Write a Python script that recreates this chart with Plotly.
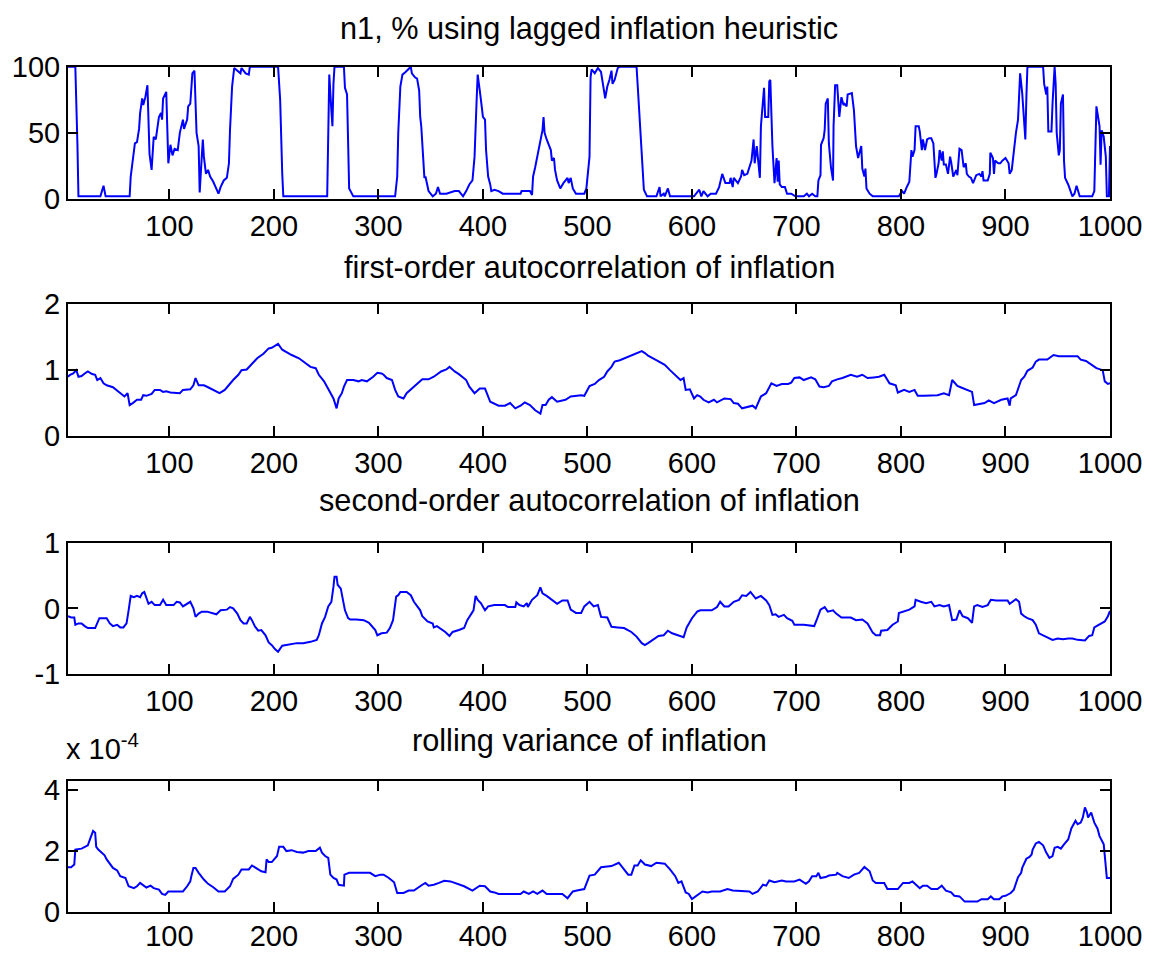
import plotly.graph_objects as go

# ---------------- data ----------------
n1_t = [3,10,12,13,34,37,39,62,63,65,67,69,71,72,74,75,77,79,81,83,85,87,90,92,93,94,97,99,101,103,105,108,110,113,114,117,118,120,122,124,126,128,129,131,132,133,135,137,139,142,145,147,149,152,155,157,158,159,160,162,165,168,169,173,176,177,204,206,208,209,251,252,253,255,256,257,258,267,268,270,272,276,316,318,319,321,323,326,329,331,332,335,337,339,340,341,343,344,345,347,348,352,355,357,359,365,373,377,381,384,387,390,392,394,395,397,398,399,400,402,403,405,407,408,411,415,419,436,437,445,447,448,450,452,455,457,458,459,461,465,466,468,469,471,474,477,481,482,484,486,489,497,499,502,503,504,507,510,513,515,517,519,521,523,524,526,529,531,547,548,550,552,554,557,566,569,570,573,574,577,579,602,607,609,611,615,618,623,626,629,631,632,636,637,639,640,644,647,648,650,653,657,659,660,662,664,665,666,668,669,670,673,674,675,677,678,679,681,682,683,684,686,689,691,695,699,707,710,712,715,718,720,721,723,723.5,726,727,728,730,731,733,735,735.5,737,739,741,743,745,746,748,749,753,755,757,759,762,763,765,766,767,770,773,798,801,803,805,808,810,811,813,814,817,818,820,821,823,825,827,829,831,833,834,836,837,839,840,841,843,845,847,848,850,853,854,856,858,860,862,863,865,867,869,872,875,877,878,879,883,885,885.5,888,889,890,893,895,897,900,903,904,906,908,910,912,913,914,916,917,919,920,921,936,937,939,940,941,944,945,947,948,949,951,952,953,955,956,957,960,962,964,966,968,971,983,985,987,988,990,991,992,994,996,997,999,1000]
n1_v = [100,100,42,2,2,10,2,2,17,32,42,43,53,65,76,71,77,86,34,22,47,45,62,65,60,76,81,27,41,33,38,37,50,60,53,60,70,72,95,97,50,40,5,32,45,32,19,22,17,13,8,4,9,14,16,27,52,70,85,99,97,95,99,95,94,100,100,75,19,2,2,47,94,67,55,87,100,100,84,79,8,2,2,17,50,85,94,96,98,100,95,92,91,82,62,55,29,16,17,11,6,2,4,9,4,4,6,6,2,6,11,14,32,75,94,82,72,69,62,60,37,17,11,6,7,6,4,4,6,6,3,17,24,32,42,52,62,50,45,37,29,31,22,14,8,12,16,12,16,8,4,4,8,32,92,98,95,99,96,87,76,85,90,97,87,90,99,100,100,87,60,37,7,2,2,9,2,4,2,8,2,2,7,2,6,2,4,4,9,19,14,12,12,16,9,16,12,17,22,18,19,29,45,27,40,19,16,55,75,84,62,62,89,90,40,19,12,31,13,29,11,9,9,4,4,2,2,4,2,4,2,2,14,18,41,46,52,72,76,42,24,14,55,86,86,62,77,71,72,70,79,80,67,40,31,40,23,17,23,8,4,2,2,6,4,8,13,37,32,37,55,55,51,37,45,37,45,46,46,42,16,19,27,37,29,36,26,26,19,32,28,17,22,18,38,37,24,27,19,17,16,12,18,19,17,21,14,14,19,35,31,19,29,27,27,29,31,27,19,22,37,50,60,87,95,80,65,45,77,100,100,87,79,85,51,51,72,100,87,50,33,37,72,79,29,16,11,6,2,4,10,2,2,6,70,65,55,26,52,47,32,2,2,40]

ac1_t = [3,5,8,11,13,16,19,22,26,29,31,34,37,40,46,53,57,60,62,65,69,73,75,78,83,86,91,94,97,101,110,113,120,123,125,128,133,137,142,148,153,158,161,166,169,174,177,184,190,195,198,201,204,208,212,217,224,228,235,240,243,248,251,254,257,260,262,265,267,270,276,281,284,289,292,295,299,303,305,308,313,316,319,324,327,332,336,342,348,353,360,365,368,373,377,384,387,392,397,402,407,410,415,421,426,431,436,440,445,450,455,457,460,463,466,471,476,479,484,489,494,497,502,507,511,516,519,523,526,531,537,542,548,552,555,558,565,569,574,579,584,589,592,594,598,602,605,608,611,616,621,624,631,637,640,644,648,653,658,661,666,671,676,681,686,690,692,695,698,703,707,714,718,722,726,731,734,739,744,752,758,763,768,774,779,784,789,795,797,803,808,813,816,822,829,835,841,846,849,854,857,864,868,870,875,880,884,889,896,902,904,905,910,915,918,921,926,929,932,940,946,951,969,972,977,982,987,993,995,998,1000]
ac1_v = [0.90,0.93,0.95,1.0,0.90,0.91,0.95,0.98,0.94,0.93,0.85,0.88,0.80,0.77,0.74,0.65,0.60,0.65,0.47,0.50,0.55,0.55,0.62,0.61,0.64,0.70,0.70,0.67,0.68,0.66,0.65,0.70,0.71,0.77,0.88,0.77,0.77,0.74,0.70,0.65,0.70,0.80,0.85,0.93,1.0,1.01,1.06,1.18,1.25,1.33,1.34,1.37,1.40,1.31,1.27,1.23,1.18,1.13,1.05,1.03,0.93,0.83,0.75,0.65,0.57,0.42,0.57,0.65,0.75,0.85,0.85,0.83,0.85,0.83,0.86,0.90,0.96,0.95,0.93,0.88,0.85,0.70,0.60,0.57,0.65,0.72,0.77,0.86,0.86,0.90,0.98,1.01,1.05,0.98,0.94,0.85,0.75,0.65,0.72,0.72,0.52,0.50,0.46,0.46,0.50,0.42,0.46,0.51,0.47,0.39,0.34,0.47,0.47,0.55,0.59,0.52,0.54,0.55,0.60,0.61,0.62,0.61,0.76,0.79,0.85,0.90,0.98,1.05,1.13,1.15,1.19,1.23,1.26,1.29,1.26,1.22,1.16,1.13,1.08,1.0,0.93,0.85,0.88,0.70,0.71,0.57,0.62,0.60,0.55,0.51,0.55,0.51,0.57,0.56,0.50,0.49,0.42,0.44,0.46,0.42,0.60,0.65,0.80,0.76,0.79,0.79,0.79,0.81,0.88,0.89,0.85,0.89,0.86,0.75,0.74,0.76,0.83,0.86,0.88,0.93,0.90,0.93,0.88,0.89,0.90,0.93,0.80,0.77,0.66,0.70,0.67,0.70,0.61,0.61,0.62,0.62,0.65,0.62,0.85,0.76,0.74,0.70,0.67,0.47,0.49,0.50,0.54,0.50,0.55,0.57,0.46,0.57,0.62,0.85,0.90,0.99,1.04,1.13,1.16,1.16,1.23,1.21,1.21,1.16,1.14,1.08,1.03,1.0,0.83,0.79,0.80]

ac2_t = [3,6,9,10,13,16,19,22,29,31,33,37,40,43,46,50,53,56,59,61,63,66,69,72,74,76,78,80,83,86,91,94,97,104,107,110,113,117,120,123,125,128,131,136,141,145,149,155,158,161,165,168,171,174,177,179,182,185,188,192,195,198,201,204,208,212,217,222,228,235,241,243,246,249,252,255,257,258,260,261,264,266,268,271,273,279,286,291,294,297,299,303,308,311,314,317,319,321,327,331,334,337,340,342,347,352,353,356,361,364,368,371,377,382,385,389,391,393,395,398,402,405,411,421,424,431,432,435,439,442,443,447,452,455,457,461,466,471,476,481,484,489,494,497,502,506,510,513,519,523,529,535,542,547,552,555,558,563,568,573,577,581,587,592,595,600,605,608,613,619,624,627,631,635,640,645,648,652,656,661,666,671,674,677,680,683,688,691,696,698,707,717,720,723,727,730,735,738,743,752,757,763,768,773,776,780,781,787,792,797,798,803,808,813,814,819,824,829,832,837,841,846,849,853,856,859,864,868,870,873,878,883,886,891,902,904,907,910,913,915,918,921,926,929,932,936,940,945,950,955,960,964,969,976,980,983,985,990,995,998,1000]
ac2_v = [-0.12,-0.14,-0.14,-0.25,-0.23,-0.23,-0.27,-0.30,-0.30,-0.23,-0.15,-0.15,-0.15,-0.23,-0.27,-0.25,-0.29,-0.29,-0.23,-0.03,0.19,0.17,0.19,0.17,0.23,0.25,0.17,0.07,0.10,0.05,0.05,0.13,0.05,0.05,0.10,0.09,0.03,0.07,0.10,0.0,-0.13,-0.08,-0.05,-0.05,-0.07,-0.09,-0.03,-0.02,0.02,0.0,-0.08,-0.18,-0.23,-0.23,-0.13,-0.18,-0.28,-0.34,-0.33,-0.41,-0.52,-0.56,-0.62,-0.66,-0.57,-0.56,-0.54,-0.53,-0.53,-0.51,-0.48,-0.41,-0.23,-0.13,0.03,0.10,0.33,0.48,0.48,0.36,0.30,0.15,-0.03,-0.15,-0.17,-0.17,-0.18,-0.22,-0.28,-0.33,-0.41,-0.38,-0.37,-0.30,-0.18,0.18,0.20,0.25,0.25,0.20,0.10,0.03,-0.03,-0.12,-0.20,-0.23,-0.29,-0.27,-0.32,-0.36,-0.42,-0.36,-0.33,-0.30,-0.18,-0.08,-0.03,0.19,0.13,0.08,-0.03,0.03,0.05,0.05,0.02,0.02,0.09,0.05,0.03,0.08,0.02,0.13,0.20,0.32,0.23,0.19,0.13,0.07,0.12,0.12,-0.02,-0.07,-0.07,0.03,0.10,0.03,0.05,-0.13,-0.14,-0.28,-0.29,-0.30,-0.36,-0.43,-0.53,-0.56,-0.53,-0.48,-0.42,-0.41,-0.34,-0.38,-0.41,-0.44,-0.29,-0.15,-0.05,-0.03,-0.03,-0.03,0.02,0.10,0.03,0.03,0.10,0.13,0.20,0.19,0.25,0.15,0.19,0.12,0.05,-0.10,-0.09,-0.13,-0.10,-0.15,-0.19,-0.25,-0.25,-0.27,-0.15,-0.02,0.02,-0.05,-0.03,-0.08,-0.14,-0.14,-0.18,-0.17,-0.23,-0.37,-0.41,-0.41,-0.34,-0.33,-0.25,-0.20,-0.07,-0.05,-0.02,0.03,0.13,0.10,0.08,0.10,0.03,0.05,0.03,0.05,-0.18,-0.17,-0.03,-0.12,-0.15,-0.22,0.03,0.05,0.02,0.05,0.13,0.12,0.12,0.07,0.10,0.14,0.10,-0.08,-0.12,-0.15,-0.18,-0.25,-0.38,-0.41,-0.43,-0.48,-0.46,-0.47,-0.46,-0.46,-0.48,-0.49,-0.42,-0.41,-0.29,-0.25,-0.20,-0.12,-0.04]

var_t = [3,6,9,10,16,20,22,24,26,27,29,30,32,35,38,40,43,46,50,53,58,61,66,69,72,75,78,82,85,90,93,96,99,102,113,117,120,121,123,125,128,133,137,142,147,153,158,161,166,169,176,179,184,188,192,193,195,198,203,205,209,212,217,222,228,233,240,244,246,249,252,254,257,260,262,267,267.5,272,292,297,302,305,310,315,318,324,329,334,342,345,348,353,358,363,369,376,382,390,397,402,407,411,415,436,439,444,448,452,457,461,476,481,486,490,497,502,507,513,523,530,534,539,542,545,548,551,555,561,566,574,579,584,587,590,594,597,600,605,610,615,619,627,634,639,655,658,663,668,671,674,679,686,690,698,703,709,712,715,719,721,723,728,731,738,739,744,750,755,760,763,765,770,773,776,784,787,797,802,808,811,818,821,825,829,835,839,843,848,851,856,861,873,877,883,886,889,894,897,900,905,908,912,915,916,920,923,925,926,929,932,936,939,942,945,947,950,953,956,960,963,967,969,972,974,976,978,979,982,985,988,990,994,996,997,1000]
var_v = [1.47,1.47,1.56,2.05,2.08,2.16,2.19,2.38,2.55,2.66,2.60,2.14,2.05,1.95,1.86,1.73,1.59,1.45,1.37,1.18,1.12,0.85,0.79,0.85,0.96,0.87,0.81,0.87,0.79,0.74,0.60,0.57,0.68,0.68,0.68,0.85,1.01,1.18,1.45,1.45,1.29,1.07,0.93,0.82,0.68,0.68,0.85,1.09,1.23,1.40,1.40,1.53,1.42,1.34,1.31,1.73,1.64,1.64,1.84,2.14,2.14,2.0,2.03,1.97,1.95,2.0,2.0,2.11,1.95,1.84,1.78,1.23,1.12,1.07,0.90,0.87,1.23,1.29,1.29,1.18,1.23,1.23,1.12,0.98,0.63,0.63,0.71,0.71,0.90,0.96,0.87,0.90,0.96,1.03,1.01,0.93,0.85,0.71,0.87,0.85,0.68,0.65,0.60,0.60,0.68,0.60,0.68,0.60,0.71,0.60,0.60,0.46,0.68,0.71,0.76,1.20,1.23,1.47,1.51,1.62,1.45,1.23,1.23,1.53,1.53,1.70,1.56,1.51,1.62,1.59,1.40,1.18,0.96,1.01,0.65,0.60,0.43,0.57,0.68,0.65,0.68,0.68,0.76,0.71,0.68,0.60,0.68,0.90,0.87,1.04,0.98,1.04,1.01,1.01,1.07,0.93,1.01,1.18,1.18,1.29,1.12,1.15,1.20,1.23,1.29,1.18,1.12,1.23,1.29,1.40,1.48,1.34,1.04,0.96,0.96,0.76,0.76,0.96,0.96,1.01,0.79,0.87,0.87,0.76,0.76,0.87,0.71,0.65,0.54,0.52,0.35,0.35,0.43,0.43,0.52,0.43,0.43,0.52,0.54,0.63,0.74,1.15,1.29,1.45,1.75,1.81,1.89,2.05,2.25,2.30,2.19,1.95,1.78,1.84,2.11,2.14,2.08,2.22,2.38,2.74,2.99,2.88,2.93,3.10,3.43,3.26,3.10,3.26,2.93,2.74,2.49,2.22,1.51,1.12,1.12]

x_tick_vals = [100, 200, 300, 400, 500, 600, 700, 800, 900, 1000]
titles = ["n1, % using lagged inflation heuristic",
          "first-order autocorrelation of inflation",
          "second-order autocorrelation of inflation",
          "rolling variance of inflation"]
y_ticks = [[0, 50, 100], [0, 1, 2], [-1, 0, 1], [0, 2, 4]]
y_ticktext = [["0", "50", "100"], ["0", "1", "2"], ["-1", "0", "1"], ["0", "2", "4"]]
y_ranges = [[0, 100], [0, 2], [-1, 1], [0, 4.3]]
series = [(n1_t, n1_v), (ac1_t, ac1_v), (ac2_t, ac2_v), (var_t, var_v)]

# ---------------- layout geometry (pixels) ----------------
W, H = 1155, 953
L_PX, R_PX = 68, 1110
tops = [66.7, 304.3, 542.7, 780.7]
bots = [199.0, 436.0, 674.0, 912.3]
title_y = [28, 267, 500, 740]

FONT = "Liberation Sans, Arial, Helvetica, sans-serif"
FS = 29
FS_T = 30.7

fig = go.Figure()
layout = dict(width=W, height=H,
              margin=dict(l=0, r=0, t=0, b=0, pad=0, autoexpand=False),
              paper_bgcolor="white", plot_bgcolor="white", showlegend=False,
              font=dict(family=FONT, size=FS, color="black"))
annotations = []
for i, (t, v) in enumerate(series):
    k = "" if i == 0 else str(i + 1)
    fig.add_trace(go.Scatter(x=t, y=v, mode="lines",
                             line=dict(color="#0000ff", width=2),
                             xaxis="x" + k, yaxis="y" + k, hoverinfo="skip"))
    ax_common = dict(showline=True, linecolor="black", linewidth=2, mirror="ticks",
                     ticks="inside", ticklen=10, tickwidth=2, tickcolor="black",
                     showgrid=False, zeroline=False, automargin=False,
                     tickfont=dict(family=FONT, size=FS, color="black"))
    layout["xaxis" + k] = dict(ax_common, domain=[L_PX / W, R_PX / W], range=[3, 1000],
                               tickmode="array", tickvals=x_tick_vals,
                               ticktext=[str(v) for v in x_tick_vals],
                               ticklabelstandoff=(-3 if i == 3 else 0),
                               anchor="y" + k)
    layout["yaxis" + k] = dict(ax_common, domain=[1 - bots[i] / H, 1 - tops[i] / H],
                               range=y_ranges[i], tickmode="array", tickvals=y_ticks[i],
                               ticktext=y_ticktext[i], anchor="x" + k)
    annotations.append(dict(text=titles[i], xref="paper", yref="paper",
                            x=(L_PX + R_PX) / 2 / W, y=1 - title_y[i] / H,
                            xanchor="center", yanchor="middle", showarrow=False,
                            font=dict(family=FONT, size=FS_T, color="black")))

annotations.append(dict(text="x 10<sup>-4</sup>", xref="paper", yref="paper",
                        x=64 / W, y=1 - 767 / H, xanchor="left", yanchor="bottom",
                        showarrow=False, font=dict(family=FONT, size=FS, color="black")))
layout["annotations"] = annotations
fig.update_layout(**layout)
fig.write_html("out.html")
